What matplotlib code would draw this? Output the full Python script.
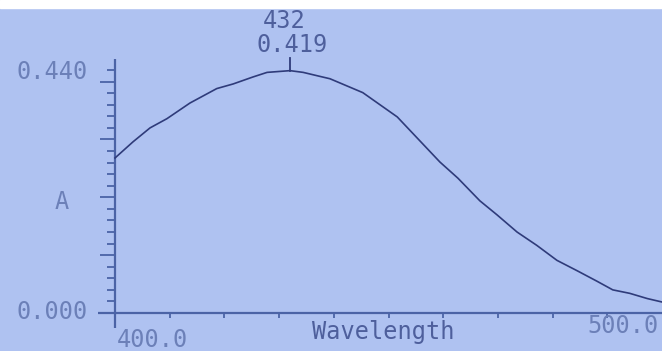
import matplotlib
matplotlib.use('Agg')
import matplotlib.pyplot as plt
from matplotlib.patches import Rectangle
import numpy as np

# ---- data ----
wavelength = [400, 403.3, 406.4, 409.5, 413.7, 418.6, 421.6, 425.2, 427.8, 432,
              434.4, 437.5, 439.3, 445.3, 451.6, 455.8, 459.4, 462.7, 466.7, 469.8,
              473.5, 477.1, 480.8, 484.5, 488.1, 491.0, 494.1, 497.3, 500]
absorbance = [0.268, 0.296, 0.320, 0.336, 0.363, 0.388, 0.396, 0.408, 0.416, 0.419,
              0.416, 0.409, 0.405, 0.381, 0.339, 0.297, 0.261, 0.233, 0.194, 0.170,
              0.140, 0.117, 0.091, 0.073, 0.055, 0.040, 0.034, 0.025, 0.019]
peak_wl = 432
peak_abs = 0.419
x_ticks = [410, 420, 430, 440, 450, 460, 470, 480, 490]
y_major = [0.1, 0.2, 0.3, 0.4]
y_minor = [0.02, 0.04, 0.06, 0.08, 0.12, 0.14, 0.16, 0.18, 0.22, 0.24, 0.26, 0.28,
           0.32, 0.34, 0.36, 0.38, 0.42]
x_range = (400, 500)
y_range = (0.0, 0.44)
label_y_top = "0.440"
label_y_bottom = "0.000"
label_y_title = "A"
label_x_left = "400.0"
label_x_right = "500.0"
label_x_title = "Wavelength"

# ---- style ----
W, H = 662, 351
BG = '#afc2f1'
CURVE = '#2f3b7a'
AXC = '#4b63a6'
TXT = '#6c80b8'
TXT_DARK = '#4e5f9c'
FONT = 'DejaVu Sans Mono'
FS = 17

fig = plt.figure(figsize=(W / 100, H / 100), dpi=100, facecolor=BG)
ax = fig.add_axes([115 / W, 38 / H, 547 / W, 254.5 / H])
ax.set_facecolor('none')
ax.set_xlim(*x_range)
ax.set_ylim(*y_range)
for s in ax.spines.values():
    s.set_visible(False)

# axis lines (crossing at origin)
ax.plot([-17 / 547, 1.0], [0, 0], transform=ax.transAxes, color=AXC, lw=1.6,
        clip_on=False, solid_capstyle='butt')
ax.plot([0, 0], [-15 / 254.5, 1.0], transform=ax.transAxes, color=AXC, lw=1.6,
        clip_on=False, solid_capstyle='butt')

# ticks
ax.set_xticks(x_ticks)
ax.set_xticklabels([])
ax.tick_params(axis='x', direction='out', length=3.8, width=1.3, color=AXC)
ax.set_yticks(y_major)
ax.set_yticks(y_minor, minor=True)
ax.set_yticklabels([])
ax.tick_params(axis='y', which='major', direction='out', length=10.5, width=1.3,
               color=AXC, labelleft=False)
ax.tick_params(axis='y', which='minor', direction='out', length=5.8, width=1.3,
               color=AXC, labelleft=False)

# curve
ax.plot(wavelength, absorbance, color=CURVE, lw=1.2, clip_on=False)

# peak marker
ax.plot([peak_wl, peak_wl], [peak_abs, y_range[1]], color=CURVE, lw=1.3, clip_on=False)


def ftext(x, y, s, ha='center', va='center', color=TXT, **kw):
    fig.text(x / W, 1 - y / H, s, ha=ha, va=va, color=color, family=FONT,
             fontsize=FS, **kw)


ftext(52, 72, label_y_top)
ftext(52, 312, label_y_bottom)
ftext(62, 202, label_y_title)
ftext(117, 340, label_x_left, ha='left')
ftext(587, 326, label_x_right, ha='left')
ftext(312, 339, label_x_title, ha='left', va='baseline', color=TXT_DARK)
ftext(284, 21, f"{peak_wl}", color=TXT_DARK)
ftext(292, 45, f"{peak_abs:.3f}", color=TXT_DARK)

# white bezel strip at top
fig.add_artist(Rectangle((0, 1 - 8 / H), 1, 8 / H, transform=fig.transFigure,
                         color='white', zorder=10))

fig.savefig('out.png', dpi=100, facecolor=BG)
